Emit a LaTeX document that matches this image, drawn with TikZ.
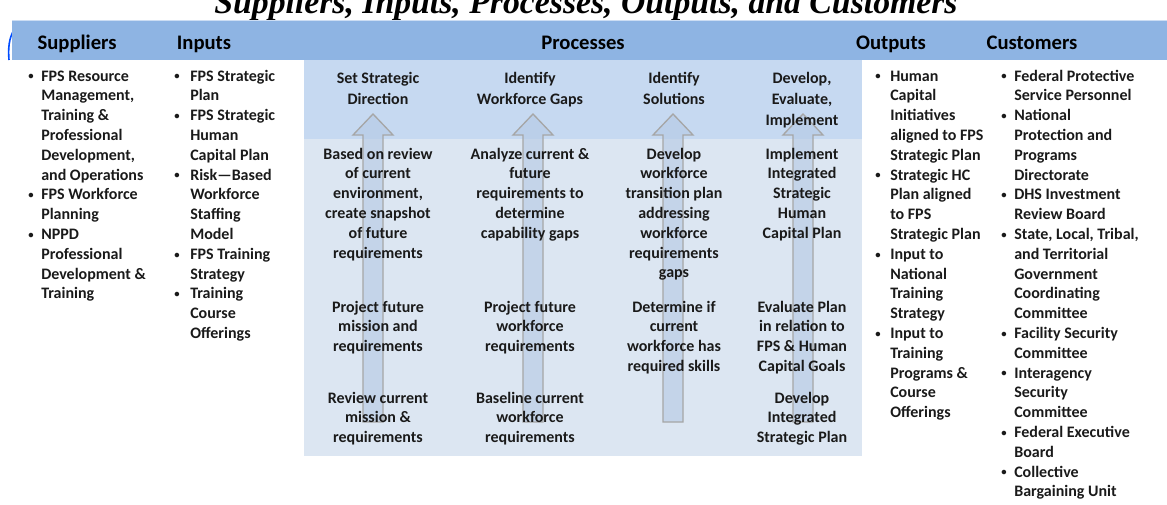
\documentclass[tikz,border=0pt]{standalone}
\usepackage{fontspec}
\setmainfont{Carlito}
\newfontfamily\titlefont{Liberation Serif}
\usepackage{xcolor}
\usepackage{tikz}
\usetikzlibrary{positioning}

\definecolor{hdrblue}{HTML}{8EB4E3}
\definecolor{bandtop}{HTML}{C6D9F1}
\definecolor{bandlow}{HTML}{DCE6F2}
\definecolor{arrowfill}{HTML}{B4C9E4}
\definecolor{arrowline}{HTML}{A6A6A6}
\definecolor{txt}{HTML}{1A1A1A}

\newcommand{\blt}{\raisebox{0.8pt}{\fontsize{8}{8}\selectfont\textbullet}}
\newcommand{\bullist}[2]{\begin{tabular}[t]{@{}p{#1}@{}l@{}}#2\end{tabular}}
\newcommand{\ctab}[1]{\begin{tabular}[t]{@{}c@{}}#1\end{tabular}}

\begin{document}
\begin{tikzpicture}[x=0.75pt,y=-0.75pt,
      bodytext/.style={anchor=base, inner sep=0, text=txt, font=\bfseries\fontsize{12}{14.85}\selectfont},
      listtext/.style={bodytext, anchor=base west},
      steptitle/.style={bodytext, font=\bfseries\fontsize{12}{15.75}\selectfont},
      hdrtext/.style={anchor=base, inner sep=0, text=black, font=\bfseries\fontsize{15.5}{18}\selectfont},
      upblock/.style={fill=arrowfill, fill opacity=0.6, draw=arrowline, line width=1pt}
    ]
    \useasboundingbox (0,0) rectangle (1167,504);
    \clip (0,0) rectangle (1167,504);

    \node[anchor=base, inner sep=0, font=\titlefont\bfseries\itshape\fontsize{25.3}{30}\selectfont] (title) at (586,13) {Suppliers, Inputs, Processes, Outputs, and Customers};

    \draw[blue!70!cyan, line width=1.2pt] (14,30) .. controls (9,38) and (8,48) .. (9,60);

    % header bar and process band
    \fill[hdrblue] (12,20) rectangle (1167,60);
    \draw[white!55!hdrblue, line width=1pt] (12,20.5) -- (1167,20.5);
    \fill[bandtop] (304,60) rectangle (862,139);
    \fill[bandlow] (304,139) rectangle (862,456);

    \node[hdrtext] (hsup) at (77,49) {Suppliers};
    \node[hdrtext] (hinp) at (204,49) {Inputs};
    \node[hdrtext] (hproc) at (583,49) {Processes};
    \node[hdrtext] (hout) at (891,49) {Outputs};
    \node[hdrtext] (hcust) at (1032,49) {Customers};

    \node[listtext] (suppliers) at (28,81) {\bullist{9.75pt}{
      \blt & FPS Resource\\
           & Management,\\
           & Training \&\\
           & Professional\\
           & Development,\\
           & and Operations\\
      \blt & FPS Workforce\\
           & Planning\\
      \blt & NPPD\\
           & Professional\\
           & Development \&\\
           & Training}};

    \node[listtext] (inputs) at (174,81) {\bullist{12pt}{
      \blt & FPS Strategic\\
           & Plan\\
      \blt & FPS Strategic\\
           & Human\\
           & Capital Plan\\
      \blt & Risk—Based\\
           & Workforce\\
           & Staffing\\
           & Model\\
      \blt & FPS Training\\
           & Strategy\\
      \blt & Training\\
           & Course\\
           & Offerings}};

    % rising arrows behind the steps
    \foreach \ax in {373,533,673,803}
      \draw[upblock] (\ax-10,422) -- (\ax-10,135) -- (\ax-20,135) -- (\ax,114)
        -- (\ax+20,135) -- (\ax+10,135) -- (\ax+10,422) -- cycle;

    \node[steptitle] (setdir) at (378,83) {\ctab{Set Strategic\\Direction}};
    \node[bodytext] (setdirC) at (378,159) {\ctab{Based on review\\of current\\environment,\\create snapshot\\of future\\requirements}};
    \node[bodytext] (setdirB) at (378,312) {\ctab{Project future\\mission and\\requirements}};
    \node[bodytext] (setdirA) at (378,403) {\ctab{Review current\\mission \&\\requirements}};

    \node[steptitle] (gaps) at (530,83) {\ctab{Identify\\Workforce Gaps}};
    \node[bodytext] (gapsC) at (530,159) {\ctab{Analyze current \&\\future\\requirements to\\determine\\capability gaps}};
    \node[bodytext] (gapsB) at (530,312) {\ctab{Project future\\workforce\\requirements}};
    \node[bodytext] (gapsA) at (530,403) {\ctab{Baseline current\\workforce\\requirements}};

    \node[steptitle] (solve) at (674,83) {\ctab{Identify\\Solutions}};
    \node[bodytext] (solveB) at (674,159) {\ctab{Develop\\workforce\\transition plan\\addressing\\workforce\\requirements\\gaps}};
    \node[bodytext] (solveA) at (674,312) {\ctab{Determine if\\current\\workforce has\\required skills}};

    \node[steptitle] (impl) at (802,83) {\ctab{Develop,\\Evaluate,\\Implement}};
    \node[bodytext] (implC) at (802,159) {\ctab{Implement\\Integrated\\Strategic\\Human\\Capital Plan}};
    \node[bodytext] (implB) at (802,312) {\ctab{Evaluate Plan\\in relation to\\FPS \& Human\\Capital Goals}};
    \node[bodytext] (implA) at (802,403) {\ctab{Develop\\Integrated\\Strategic Plan}};

    \node[listtext] (outputs) at (875,81) {\bullist{11.25pt}{
      \blt & Human\\
           & Capital\\
           & Initiatives\\
           & aligned to FPS\\
           & Strategic Plan\\
      \blt & Strategic HC\\
           & Plan aligned\\
           & to FPS\\
           & Strategic Plan\\
      \blt & Input to\\
           & National\\
           & Training\\
           & Strategy\\
      \blt & Input to\\
           & Training\\
           & Programs \&\\
           & Course\\
           & Offerings}};

    \node[listtext] (customers) at (1001,81) {\bullist{9.75pt}{
      \blt & Federal Protective\\
           & Service Personnel\\
      \blt & National\\
           & Protection and\\
           & Programs\\
           & Directorate\\
      \blt & DHS Investment\\
           & Review Board\\
      \blt & State, Local, Tribal,\\
           & and Territorial\\
           & Government\\
           & Coordinating\\
           & Committee\\
      \blt & Facility Security\\
           & Committee\\
      \blt & Interagency\\
           & Security\\
           & Committee\\
      \blt & Federal Executive\\
           & Board\\
      \blt & Collective\\
           & Bargaining Unit}};
  \end{tikzpicture}
\end{document}
